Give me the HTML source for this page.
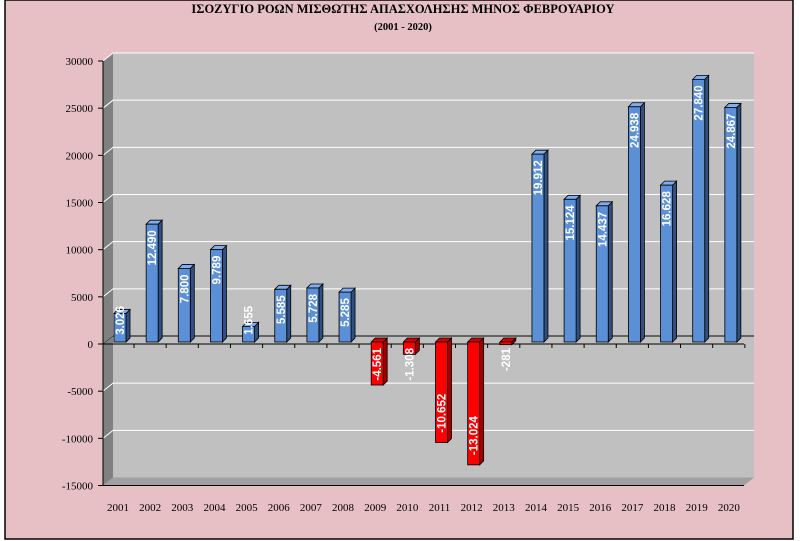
<!DOCTYPE html>
<html><head><meta charset="utf-8"><style>
body{margin:0;width:807px;height:541px;overflow:hidden;background:#fff}
svg{display:block}
</style></head><body>
<svg id="s" width="807" height="541" xmlns="http://www.w3.org/2000/svg" font-family="Liberation Serif, serif">
<rect x="0" y="0" width="807" height="541" fill="#fff"/>
<rect x="5" y="0" width="788" height="539" fill="#e6c0c4" stroke="#000" stroke-width="1.5"/>
<text x="403" y="13" text-anchor="middle" font-size="12.5" font-weight="bold">ΙΣΟΖΥΓΙΟ ΡΟΩΝ ΜΙΣΘΩΤΗΣ ΑΠΑΣΧΟΛΗΣΗΣ ΜΗΝΟΣ  ΦΕΒΡΟΥΑΡΙΟΥ</text>
<text x="403" y="30" text-anchor="middle" font-size="10.5" font-weight="bold">(2001 - 2020)</text>
<g id="g"></g>
</svg>
<script>
(function(){
var g=document.getElementById('g'),h='';
function Y(v){return 344-v*0.009433;}
var dx=10,dy=-8;
h+='<polygon points="103,'+Y(30000)+' 113,'+(Y(30000)+dy)+' 113,'+(Y(-15000)+dy)+' 103,'+Y(-15000)+'" fill="#808080"/>';
h+='<rect x="113" y="'+(Y(30000)+dy)+'" width="641" height="'+(Y(-15000)-Y(30000))+'" fill="#c0c0c0"/>';
h+='<polygon points="103,'+Y(-15000)+' 113,'+(Y(-15000)+dy)+' 754,'+(Y(-15000)+dy)+' 744,'+Y(-15000)+'" fill="#a0a0a0"/>';
for(var v=-15000;v<=30000;v+=5000){
 var y=Y(v);
 if(v!==-15000) h+='<polyline points="103,'+y+' 113,'+(y+dy)+' 754,'+(y+dy)+'" fill="none" stroke="#fff" stroke-width="1"/>';
 h+='<line x1="98" y1="'+y+'" x2="103" y2="'+y+'" stroke="#000"/>';
 h+='<text x="93" y="'+(y+4)+'" text-anchor="end" font-size="11">'+v+'</text>';
}
h+='<line x1="113" y1="'+(Y(0)+dy)+'" x2="754" y2="'+(Y(0)+dy)+'" stroke="#444" stroke-width="1.5"/>';
h+='<line x1="103" y1="'+Y(0)+'" x2="113" y2="'+(Y(0)+dy)+'" stroke="#444"/>';
h+='<line x1="103" y1="'+Y(0)+'" x2="744" y2="'+Y(0)+'" stroke="#000"/>';
h+='<line x1="103" y1="'+Y(30000)+'" x2="103" y2="'+Y(-15000)+'" stroke="#000"/>';
h+='<line x1="103" y1="'+Y(-15000)+'" x2="744" y2="'+Y(-15000)+'" stroke="#000"/>';
var d=[3026,12490,7800,9789,1655,5585,5728,5285,-4561,-1308,-10652,-13024,-281,19912,15124,14437,24938,16628,27840,24867];
for(var i=0;i<20;i++){
 var c=118+32.15*i, val=d[i];
 h+='<line x1="'+(c+16)+'" y1="'+Y(0)+'" x2="'+(c+16)+'" y2="'+(Y(0)+4)+'" stroke="#000"/>';
 h+='<text x="'+c+'" y="511" text-anchor="middle" font-size="11">'+(2001+i)+'</text>';
 var base=Y(0)-2, bt=base-val*0.009433, x0=c-4, w=12, dd=4;
 var fc=val>0?'#5b8fd6':'#ff0000', sc=val>0?'#2f5080':'#a00000', tc=val>0?'#80aef0':'#d00000';
 var y1=Math.min(base,bt), y2=Math.max(base,bt);
 h+='<polygon points="'+(x0+w)+','+y1+' '+(x0+w+dd)+','+(y1-dd)+' '+(x0+w+dd)+','+(y2-dd)+' '+(x0+w)+','+y2+'" fill="'+sc+'" stroke="#000" stroke-width="0.8"/>';
 h+='<polygon points="'+x0+','+y1+' '+(x0+dd)+','+(y1-dd)+' '+(x0+w+dd)+','+(y1-dd)+' '+(x0+w)+','+y1+'" fill="'+tc+'" stroke="#000" stroke-width="0.8"/>';
 h+='<rect x="'+x0+'" y="'+y1+'" width="'+w+'" height="'+(y2-y1)+'" fill="'+fc+'" stroke="#000" stroke-width="0.8"/>';
 var s=Math.abs(val).toString(); if(s.length>3) s=s.slice(0,s.length-3)+'.'+s.slice(-3); if(val<0) s='-'+s;
 var len=s.length*6.4, endY, tx=x0+w/2+4;
 if(val>0){endY=Math.min(bt+6,338-len);} else {var st=Math.max(y2-4,348+len); endY=st-len;}
 h+='<text transform="translate('+tx+','+endY+') rotate(-90)" text-anchor="end" font-family="Liberation Sans, sans-serif" font-weight="bold" font-size="11.5" fill="#fff">'+s+'</text>';
}
g.innerHTML=h;
})();
</script>
</body></html>
